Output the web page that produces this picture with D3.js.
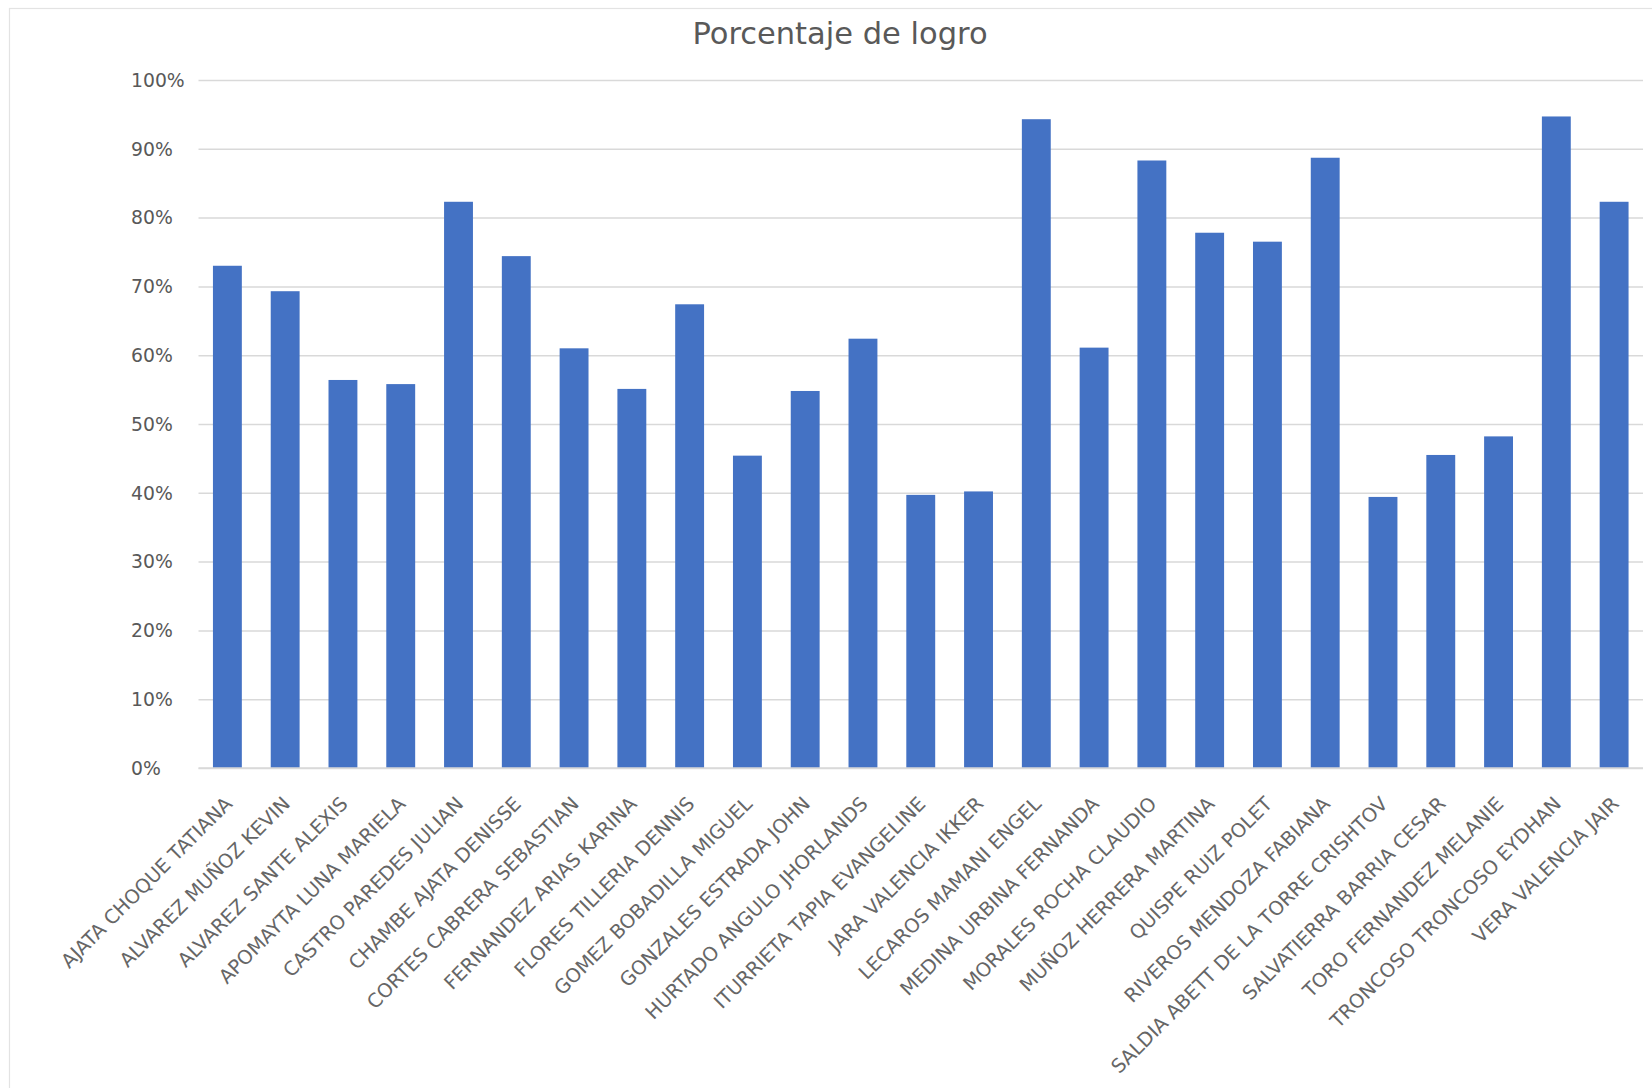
<!DOCTYPE html>
<html>
<head>
<meta charset="utf-8">
<script src="https://cdn.jsdelivr.net/npm/d3@7"></script>
<style>
  html, body { margin: 0; padding: 0; background: #ffffff; }
  svg { display: block; }
</style>
</head>
<body>
<div id="chart"></div>
<script>
const chartTitle = "Porcentaje de logro";

const categories = [
  "AJATA CHOQUE TATIANA",
  "ALVAREZ MUÑOZ KEVIN",
  "ALVAREZ SANTE ALEXIS",
  "APOMAYTA LUNA MARIELA",
  "CASTRO PAREDES JULIAN",
  "CHAMBE AJATA DENISSE",
  "CORTES CABRERA SEBASTIAN",
  "FERNANDEZ ARIAS KARINA",
  "FLORES TILLERIA DENNIS",
  "GOMEZ BOBADILLA MIGUEL",
  "GONZALES ESTRADA JOHN",
  "HURTADO ANGULO JHORLANDS",
  "ITURRIETA TAPIA EVANGELINE",
  "JARA VALENCIA IKKER",
  "LECAROS MAMANI ENGEL",
  "MEDINA URBINA FERNANDA",
  "MORALES ROCHA CLAUDIO",
  "MUÑOZ HERRERA MARTINA",
  "QUISPE RUIZ POLET",
  "RIVEROS MENDOZA FABIANA",
  "SALDIA ABETT DE LA TORRE CRISHTOV",
  "SALVATIERRA BARRIA CESAR",
  "TORO FERNANDEZ MELANIE",
  "TRONCOSO TRONCOSO EYDHAN",
  "VERA VALENCIA JAIR"
];

const values = [
  0.73, 0.693, 0.564, 0.558, 0.823, 0.744, 0.61, 0.551, 0.674, 0.454,
  0.548, 0.624, 0.397, 0.402, 0.943, 0.611, 0.883, 0.778, 0.765, 0.887,
  0.394, 0.455, 0.482, 0.947, 0.823
];

const yTicks = [0, 0.1, 0.2, 0.3, 0.4, 0.5, 0.6, 0.7, 0.8, 0.9, 1.0];
const yTickLabels = ["0%", "10%", "20%", "30%", "40%", "50%", "60%", "70%", "80%", "90%", "100%"];

const W = 1652, H = 1088;
const margin = { left: 198.5, right: 9, top: 80, bottom: 320 };
const plotW = W - margin.left - margin.right;
const plotH = H - margin.top - margin.bottom;

const textColor = "#595959";
const gridColor = "#D9D9D9";
const barColor = "#4472C4";
const fontFamily = "'DejaVu Sans', 'Liberation Sans', sans-serif";

const svg = d3.select("#chart").append("svg")
  .attr("width", W).attr("height", H);

svg.append("rect").attr("x", 0).attr("y", 0).attr("width", W).attr("height", H).attr("fill", "#ffffff");

// chart area border
svg.append("rect")
  .attr("x", 9.5).attr("y", 8.5)
  .attr("width", W + 20).attr("height", H + 20)
  .attr("fill", "none").attr("stroke", "#E3E3E3").attr("stroke-width", 1.2);

const g = svg.append("g").attr("transform", `translate(${margin.left},${margin.top})`);

const x = d3.scaleBand().domain(categories).range([0, plotW]).paddingInner(0.5).paddingOuter(0.25);
const y = d3.scaleLinear().domain([0, 1]).range([plotH, 0]);

// gridlines
const yAxis = d3.axisLeft(y).tickValues(yTicks).tickSize(-plotW).tickFormat("");
const yg = g.append("g").call(yAxis);
yg.select(".domain").remove();
yg.selectAll(".tick line").attr("stroke", gridColor).attr("stroke-width", 1.5);

// y tick labels (left aligned)
g.append("g").selectAll("text").data(yTicks).join("text")
  .attr("x", 131 - margin.left)
  .attr("y", d => y(d))
  .attr("dy", "0.36em")
  .attr("text-anchor", "start")
  .attr("fill", textColor)
  .attr("font-family", fontFamily)
  .attr("font-size", 18.8)
  .text((d, i) => yTickLabels[i]);

// bars
g.append("g").selectAll("rect").data(values).join("rect")
  .attr("x", (d, i) => x(categories[i]))
  .attr("y", d => y(d))
  .attr("width", x.bandwidth())
  .attr("height", d => y(0) - y(d))
  .attr("fill", barColor);

// x axis labels
const xAxis = d3.axisBottom(x).tickSize(0).tickPadding(0);
const xg = g.append("g").attr("transform", `translate(0,${plotH})`).call(xAxis);
xg.select(".domain").remove();
xg.selectAll(".tick text")
  .attr("font-family", fontFamily)
  .attr("font-size", 19.4)
  .attr("fill", "#666666")
  .attr("text-anchor", "end")
  .attr("dy", 0)
  .attr("transform", "translate(6,37) rotate(-45)");

// baseline
g.append("line").attr("x1", 0).attr("x2", plotW).attr("y1", y(0)).attr("y2", y(0))
  .attr("stroke", gridColor).attr("stroke-width", 1.5);

// title
svg.append("text")
  .attr("x", 840).attr("y", 44)
  .attr("text-anchor", "middle")
  .attr("fill", textColor)
  .attr("font-family", fontFamily)
  .attr("font-size", 30.5)
  .text(chartTitle);
</script>
</body>
</html>
